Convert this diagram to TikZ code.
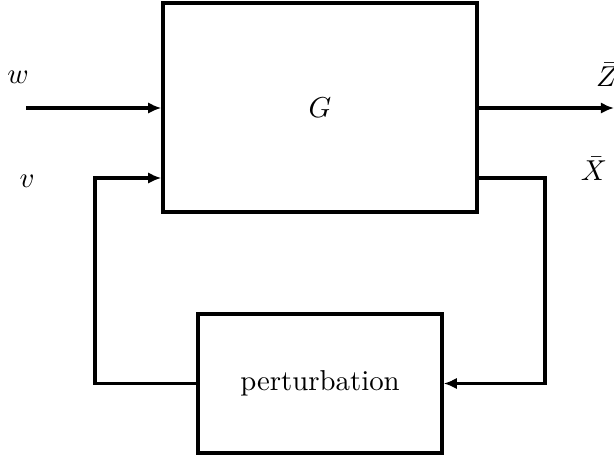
\documentclass[tikz,border=0pt]{standalone}
\usetikzlibrary{arrows.meta}
\usetikzlibrary{positioning}
\begin{document}
\begin{tikzpicture}[x=0.0122cm,y=-0.0122cm,line width=1.2pt,>={Latex[length=4.6pt,width=4pt]}]
  % Constants
  \pgfmathsetmacro\u{0.0122}
  % Boundary
  \path[use as bounding box] (0,0) rectangle (614,456);
  % Blocks
  \node[draw,minimum width=314*\u cm,minimum height=209*\u cm] (G) at (320,107.5) {$G$};
  \node[draw,minimum width=244*\u cm,minimum height=139*\u cm] (pert) at (320,383.5) {perturbation};
  % Outer ports
  \coordinate (w) at (26,108);
  \coordinate (z) at (614,108);
  \draw[->] (w) -- (w -| G.west);
  \draw[->] (z -| G.east) -- (z);
  % Feedback loop
  \coordinate (vcorner) at (95,178);
  \coordinate (xcorner) at (545,178);
  \draw[->] (xcorner -| G.east) -- (xcorner) |- (pert.east);
  \draw[->] (pert.west) -| (vcorner) -- (vcorner -| G.west);
  % Labels
  \node (wlabel) at (18,77) {$w$};
  \node (vlabel) at (27,181) {$v$};
  \node (zlabel) at (607,75) {$\bar{Z}$};
  \node (xlabel) at (594,169) {$\bar{X}$};
\end{tikzpicture}
\end{document}
